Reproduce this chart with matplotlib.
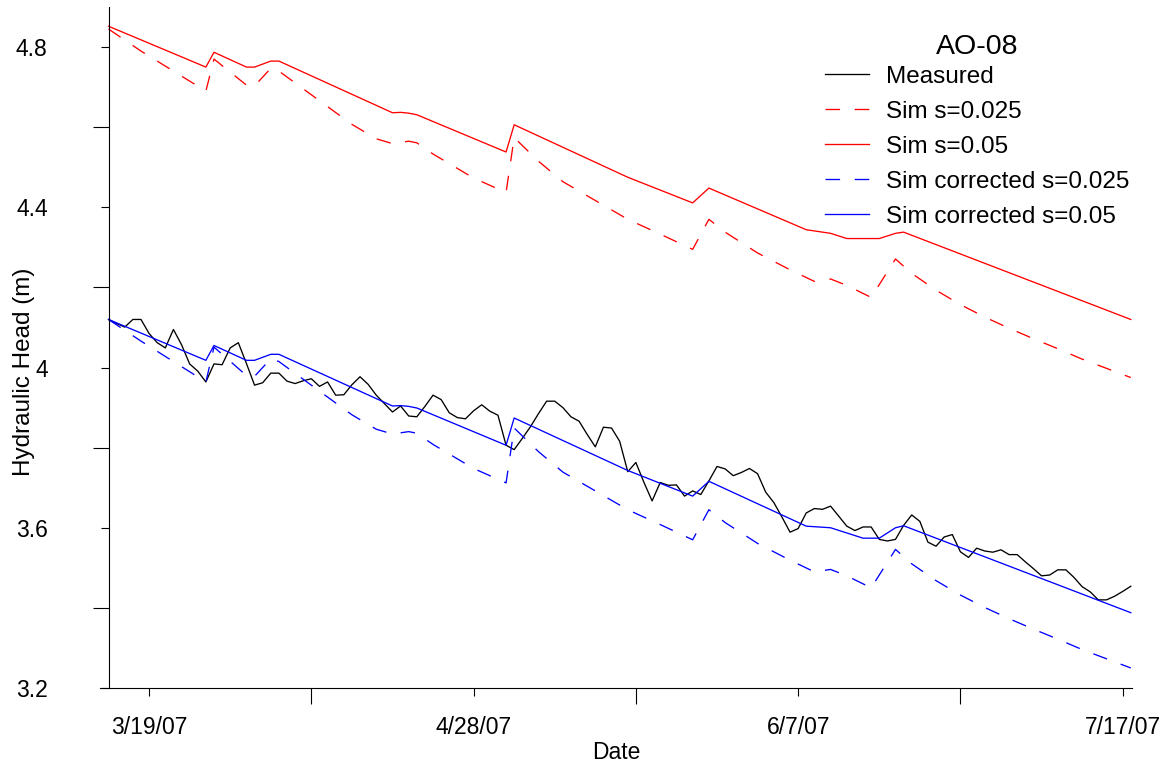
import matplotlib
matplotlib.use('Agg')
import matplotlib.pyplot as plt
import matplotlib.ticker as mticker
import pandas as pd

plt.rcParams['font.family'] = ['Liberation Sans', 'DejaVu Sans']
plt.rcParams['lines.scale_dashes'] = False

# ---------------- data ----------------
start_date = '2007-03-14'

measured = [
    4.120, 4.110, 4.101, 4.120, 4.120, 4.085, 4.062, 4.049, 4.095, 4.057,
    4.009, 3.991, 3.964, 4.009, 4.007, 4.049, 4.062, 4.010, 3.956, 3.962,
    3.986, 3.986, 3.966, 3.960, 3.967, 3.972, 3.953, 3.964, 3.931, 3.932,
    3.957, 3.977, 3.958, 3.931, 3.910, 3.889, 3.904, 3.879, 3.877, 3.903,
    3.931, 3.920, 3.887, 3.875, 3.872, 3.892, 3.907, 3.891, 3.881, 3.806,
    3.795, 3.823, 3.852, 3.885, 3.916, 3.916, 3.900, 3.877, 3.866, 3.833,
    3.802, 3.851, 3.849, 3.816, 3.740, 3.763, 3.713, 3.667, 3.713, 3.706,
    3.707, 3.679, 3.692, 3.683, 3.717, 3.753, 3.747, 3.730, 3.738, 3.748,
    3.735, 3.689, 3.663, 3.627, 3.589, 3.598, 3.637, 3.648, 3.646, 3.654,
    3.629, 3.604, 3.593, 3.602, 3.602, 3.571, 3.567, 3.571, 3.606, 3.632,
    3.616, 3.564, 3.554, 3.577, 3.583, 3.540, 3.526, 3.549, 3.542, 3.539,
    3.545, 3.533, 3.533, 3.515, 3.498, 3.480, 3.482, 3.495, 3.495, 3.476,
    3.453, 3.440, 3.420, 3.420, 3.429, 3.441, 3.454,
]

sim05_days = [0, 12, 13, 17, 18, 20, 21, 35, 36, 37, 38, 49, 50, 64, 72, 74,
              86, 89, 91, 95, 97, 98, 126]
sim05 = [4.852, 4.750, 4.787, 4.750, 4.750, 4.765, 4.765, 4.636, 4.637, 4.635,
         4.631, 4.538, 4.606, 4.475, 4.411, 4.448, 4.344, 4.335, 4.322, 4.322,
         4.335, 4.338, 4.120]

simc05_days = [0, 12, 13, 17, 18, 20, 21, 35, 36, 37, 38, 49, 50, 64, 72, 74,
               86, 89, 93, 95, 97, 98, 126]
simc05 = [4.120, 4.018, 4.055, 4.018, 4.018, 4.033, 4.033, 3.904, 3.905, 3.903,
          3.899, 3.806, 3.874, 3.743, 3.679, 3.716, 3.604, 3.600, 3.574, 3.574,
          3.600, 3.605, 3.388]

sim025_days = [0, 4, 12, 13, 17, 18, 20, 21, 30, 33, 35, 37, 38, 40, 45, 49, 50,
               53, 56, 60, 64, 68, 72, 74, 76, 80, 84, 87, 89, 91, 94, 97, 99,
               102, 105, 108, 111, 114, 117, 120, 123, 126]
sim025 = [4.845, 4.790, 4.690, 4.770, 4.705, 4.703, 4.747, 4.740, 4.607, 4.571,
          4.559, 4.565, 4.561, 4.533, 4.473, 4.437, 4.574, 4.515, 4.464, 4.417,
          4.370, 4.333, 4.295, 4.370, 4.338, 4.286, 4.244, 4.215, 4.221, 4.205,
          4.175, 4.271, 4.235, 4.193, 4.157, 4.126, 4.098, 4.072, 4.047, 4.021,
          3.998, 3.975]

simc025_days = [0, 4, 12, 13, 17, 18, 20, 21, 30, 33, 35, 37, 38, 40, 45, 49, 50,
                53, 56, 60, 64, 68, 72, 74, 76, 80, 84, 87, 89, 91, 94, 97, 99,
                102, 105, 108, 111, 114, 117, 120, 123, 126]
simc025 = [4.120, 4.066, 3.964, 4.051, 3.980, 3.978, 4.022, 4.015, 3.882, 3.846,
           3.834, 3.840, 3.836, 3.808, 3.748, 3.712, 3.849, 3.790, 3.739, 3.692,
           3.645, 3.608, 3.570, 3.645, 3.613, 3.561, 3.519, 3.490, 3.496, 3.480,
           3.450, 3.546, 3.510, 3.468, 3.432, 3.401, 3.373, 3.347, 3.322, 3.296,
           3.273, 3.250]

major_ticks = ['2007-03-19', '2007-04-28', '2007-06-07', '2007-07-17']
minor_ticks = ['2007-04-08', '2007-05-18', '2007-06-27']
y_major = [3.2, 3.6, 4.0, 4.4, 4.8]
y_minor = [3.4, 3.8, 4.2, 4.6]

title = 'AO-08'
labels = ['Measured', 'Sim s=0.025', 'Sim s=0.05',
          'Sim corrected s=0.025', 'Sim corrected s=0.05']

# ---------------- helpers ----------------
t0 = pd.Timestamp(start_date)


def to_dates(days):
    return [t0 + pd.Timedelta(days=d) for d in days]


meas_dates = pd.date_range(t0, periods=len(measured), freq='D')

# ---------------- figure ----------------
W, H = 1168, 765
fig = plt.figure(figsize=(W / 100, H / 100), dpi=100)
ax = fig.add_axes([100.4 / W, 77 / H, (1132 - 100.4) / W, 681 / H])

lw = 0.95
dash = (10.5, 10.5)
RED = '#ff0000'
BLUE = '#0000ff'

ax.plot(meas_dates, measured, color='black', lw=lw, label=labels[0])
ax.plot(to_dates(sim025_days), sim025, color=RED, lw=lw, dashes=dash, label=labels[1])
ax.plot(to_dates(sim05_days), sim05, color=RED, lw=lw, label=labels[2])
ax.plot(to_dates(simc025_days), simc025, color=BLUE, lw=lw, dashes=dash, label=labels[3])
ax.plot(to_dates(simc05_days), simc05, color=BLUE, lw=lw, label=labels[4])

ax.set_xlim(t0 - pd.Timedelta(days=1), t0 + pd.Timedelta(days=126.15))
ax.set_ylim(3.2, 4.9)

for s in ['top', 'right']:
    ax.spines[s].set_visible(False)
ax.spines['left'].set_position(('data', matplotlib.dates.date2num(t0)))
ax.spines['left'].set_linewidth(0.8)
ax.spines['bottom'].set_linewidth(0.8)

ax.xaxis.set_major_locator(mticker.FixedLocator(
    matplotlib.dates.date2num(pd.to_datetime(major_ticks))))
ax.xaxis.set_minor_locator(mticker.FixedLocator(
    matplotlib.dates.date2num(pd.to_datetime(minor_ticks))))


def fmt_date(x, pos=None):
    d = matplotlib.dates.num2date(x)
    return f"{d.month}/{d.day}/{d.strftime('%y')}"


ax.xaxis.set_major_formatter(mticker.FuncFormatter(fmt_date))
ax.xaxis.set_minor_formatter(mticker.NullFormatter())

ax.yaxis.set_major_locator(mticker.FixedLocator(y_major))
ax.yaxis.set_minor_locator(mticker.FixedLocator(y_minor))
ax.yaxis.set_major_formatter(mticker.FuncFormatter(lambda v, p: f"{v:g}"))
ax.yaxis.set_minor_formatter(mticker.NullFormatter())

ax.tick_params(axis='x', which='major', length=5.8, width=0.8, pad=14, labelsize=16.5)
ax.tick_params(axis='x', which='minor', length=11.5, width=0.8)
ax.tick_params(axis='y', which='major', length=5.8, width=0.8, pad=38, labelsize=16.5)
ax.tick_params(axis='y', which='minor', length=11.5, width=0.8)

ax.set_xlabel('Date', fontsize=16.5, labelpad=2)
ax.set_ylabel('Hydraulic Head (m)', fontsize=17.5)
ax.yaxis.set_label_coords(-0.063, 0.465)

leg = ax.legend(loc='upper left', bbox_to_anchor=(0.7024, 0.9605), frameon=False,
                fontsize=17.5, title=title, title_fontsize=20.5,
                handlelength=1.82, handletextpad=0.68, labelspacing=0.535,
                borderpad=0, borderaxespad=0)
leg._legend_box.sep = 4.2

fig.savefig('out.png', dpi=100)
